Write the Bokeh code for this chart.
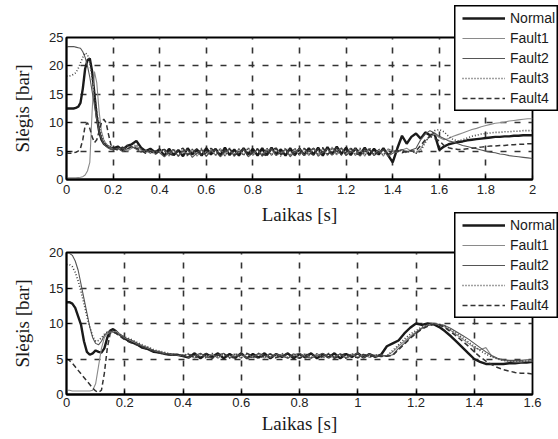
from bokeh.plotting import figure
from bokeh.layouts import column
from bokeh.models import FixedTicker, Legend, LegendItem
from bokeh.embed import file_html
from bokeh.resources import INLINE

# ---------------- data: top chart ----------------
T1 = [0.00, 0.01, 0.02, 0.03, 0.04, 0.05, 0.06, 0.07, 0.08, 0.09, 0.10,
      0.11, 0.12, 0.13, 0.14, 0.15, 0.16, 0.17, 0.18, 0.19, 0.20,
      0.22, 0.24, 0.26, 0.28, 0.30, 0.32, 0.34, 0.36, 0.38, 0.40,
      0.42, 0.44, 0.46, 0.48, 0.50, 0.52, 0.54, 0.56, 0.58, 0.60,
      0.62, 0.64, 0.66, 0.68, 0.70, 0.72, 0.74, 0.76, 0.78, 0.80,
      0.82, 0.84, 0.86, 0.88, 0.90, 0.92, 0.94, 0.96, 0.98, 1.00,
      1.02, 1.04, 1.06, 1.08, 1.10, 1.12, 1.14, 1.16, 1.18, 1.20,
      1.22, 1.24, 1.26, 1.28, 1.30, 1.32, 1.34, 1.36, 1.38, 1.40,
      1.42, 1.44, 1.46, 1.48, 1.50, 1.52, 1.54, 1.56, 1.58, 1.60,
      1.62, 1.64, 1.66, 1.68, 1.70, 1.72, 1.74, 1.76, 1.78, 1.80,
      1.82, 1.84, 1.86, 1.88, 1.90, 1.92, 1.94, 1.96, 1.98, 2.00]

normal_1 = [12.5, 12.5, 12.5, 12.5, 12.6, 12.8, 13.5, 16, 19.5, 21, 21.3, 19, 15, 11, 8.5, 7, 6.3, 6, 5.8, 5.6, 5.5,
            5.8, 5.2, 5.9, 6.2, 6.8, 5.6, 5.0, 5.4, 4.8, 5.3,
            4.2, 5.4, 4.3, 5.2, 4.1, 5.5, 4.4, 5.3, 4.2, 5.5,
            4.4, 5.4, 4.2, 5.6, 4.3, 5.3, 4.2, 5.5, 4.4, 5.4,
            4.2, 5.5, 4.3, 5.6, 4.4, 5.3, 4.2, 5.5, 4.3, 5.4,
            4.3, 5.5, 4.4, 5.6, 4.2, 5.7, 4.4, 5.8, 4.5, 5.6,
            4.3, 5.5, 4.4, 5.6, 4.3, 5.4, 4.4, 5.5, 4.3, 3.0,
            5.5, 7.7, 6.3, 7.5, 8.1, 7.2, 8.3, 7.8, 8.0, 5.2,
            5.8, 6.2, 6.4, 6.6, 6.7, 6.9, 7.0, 7.1, 7.2, 7.3,
            7.4, 7.5, 7.5, 7.6, 7.6, 7.7, 7.7, 7.8, 7.8, 7.8]
fault1_1 = [0.3, 0.3, 0.3, 0.3, 0.3, 0.35, 0.4, 0.5, 0.8, 1.5, 3, 12, 19, 17, 12, 8.5, 7, 6.3, 5.9, 5.6, 5.4,
            5.3, 5.7, 5.0, 5.5, 5.9, 5.2, 4.7, 5.1, 4.5, 4.9,
            5.3, 4.1, 5.2, 4.0, 5.1, 4.2, 5.4, 4.1, 5.2, 4.0,
            5.3, 4.2, 5.5, 4.1, 5.4, 4.0, 5.5, 4.3, 5.6, 4.2,
            5.4, 4.1, 5.5, 4.2, 5.6, 4.3, 5.4, 4.1, 5.5, 4.2,
            5.5, 4.2, 5.6, 4.3, 5.5, 4.2, 5.7, 4.3, 5.6, 4.2,
            5.5, 4.2, 5.4, 4.1, 5.5, 4.2, 5.3, 4.1, 5.4, 5.0,
            4.8, 5.2, 5.5, 5.0, 4.6, 5.4, 6.8, 7.5, 8.0, 7.4,
            7.0, 7.2, 7.6, 7.9, 8.2, 8.5, 8.8, 9.0, 9.3, 9.5,
            9.7, 9.9, 10.0, 10.1, 10.3, 10.4, 10.5, 10.6, 10.7, 10.7]
fault2_1 = [23.3, 23.4, 23.4, 23.4, 23.3, 23.2, 23.1, 22.5, 21.5, 20, 18, 15.5, 13, 10.5, 8.5, 7.2, 6.3, 5.8, 5.5, 5.3, 5.2,
            5.5, 4.9, 5.4, 5.8, 5.3, 4.8, 5.2, 4.6, 5.1, 4.7,
            4.0, 4.8, 5.3, 4.1, 5.0, 5.2, 3.9, 4.7, 5.3, 4.1,
            5.0, 5.2, 4.0, 4.8, 5.4, 4.2, 4.9, 5.3, 4.0, 4.7,
            5.3, 4.1, 5.1, 5.4, 4.2, 4.8, 5.3, 4.0, 4.9, 5.4,
            4.2, 5.0, 5.5, 4.1, 4.8, 5.4, 4.3, 5.1, 5.5, 4.2,
            4.9, 5.4, 4.1, 5.0, 5.3, 4.2, 4.8, 5.2, 4.1, 4.6,
            5.0, 5.3, 4.8, 5.2, 5.5, 7.0, 8.0, 8.6, 8.2, 7.6,
            7.2, 6.8, 6.6, 6.3, 6.0, 5.8, 5.6, 5.4, 5.2, 5.0,
            4.8, 4.7, 4.5, 4.4, 4.2, 4.1, 4.0, 3.9, 3.8, 3.7]
fault3_1 = [18.2, 18.2, 18.3, 18.5, 18.8, 19.5, 20.5, 21.5, 22.3, 22.0, 20.5, 18, 15, 12, 9.5, 7.8, 6.8, 6.2, 5.8, 5.5, 5.3,
            5.6, 5.1, 6.0, 5.6, 6.2, 5.4, 4.9, 5.3, 4.7, 5.2,
            5.1, 4.3, 5.4, 4.2, 5.2, 4.1, 5.3, 4.3, 5.5, 4.2,
            5.2, 4.3, 5.4, 4.2, 5.5, 4.4, 5.3, 4.2, 5.6, 4.3,
            5.4, 4.2, 5.5, 4.3, 5.4, 4.1, 5.6, 4.4, 5.5, 4.3,
            5.4, 4.3, 5.6, 4.4, 5.5, 4.3, 5.6, 4.4, 5.5, 4.3,
            5.6, 4.4, 5.5, 4.3, 5.6, 4.4, 5.4, 4.3, 5.2, 5.1,
            4.9, 5.2, 4.7, 5.1, 4.6, 5.0, 6.5, 7.8, 8.6, 8.8,
            8.4, 7.6, 7.0, 6.8, 7.0, 7.3, 7.6, 7.8, 8.0, 8.1,
            8.2, 8.3, 8.3, 8.4, 8.4, 8.5, 8.5, 8.6, 8.6, 8.6]
fault4_1 = [4.7, 4.6, 4.6, 4.7, 4.8, 5.0, 5.5, 7.0, 9.5, 10.0, 9.0, 7.5, 6.5, 7.0, 8.5, 10.0, 10.6, 10.0, 8.0, 6.2, 5.5,
            5.2, 5.7, 5.3, 5.8, 5.5, 5.1, 4.6, 5.0, 4.4, 5.1,
            5.3, 4.6, 4.2, 5.1, 5.5, 4.4, 4.8, 5.4, 4.2, 4.7,
            5.5, 4.9, 4.2, 5.2, 5.4, 4.3, 4.7, 5.5, 4.1, 4.9,
            5.4, 4.5, 4.2, 5.3, 5.5, 4.4, 4.9, 5.3, 4.2, 4.6,
            5.5, 4.8, 4.3, 5.4, 5.6, 4.5, 4.9, 5.6, 4.3, 4.8,
            5.5, 4.6, 4.3, 5.4, 5.2, 4.4, 4.9, 5.3, 4.4, 4.9,
            5.1, 4.7, 5.0, 5.0, 5.0, 6.0, 7.0, 7.6, 7.2, 6.8,
            6.0, 5.6, 5.4, 5.3, 5.3, 5.4, 5.5, 5.6, 5.7, 5.8,
            5.9, 5.9, 6.0, 6.0, 6.1, 6.1, 6.2, 6.2, 6.3, 6.3]

# ---------------- data: bottom chart ----------------
T2 = [0.00, 0.01, 0.02, 0.03, 0.04, 0.05, 0.06, 0.07, 0.08, 0.09, 0.10,
      0.11, 0.12, 0.13, 0.14, 0.15, 0.16, 0.17, 0.18, 0.19, 0.20,
      0.22, 0.24, 0.26, 0.28, 0.30, 0.32, 0.34, 0.36, 0.38, 0.40,
      0.42, 0.44, 0.46, 0.48, 0.50, 0.52, 0.54, 0.56, 0.58, 0.60,
      0.62, 0.64, 0.66, 0.68, 0.70, 0.72, 0.74, 0.76, 0.78, 0.80,
      0.82, 0.84, 0.86, 0.88, 0.90, 0.92, 0.94, 0.96, 0.98, 1.00,
      1.02, 1.04, 1.06, 1.08, 1.10, 1.12, 1.14, 1.16, 1.18, 1.20,
      1.22, 1.24, 1.26, 1.28, 1.30, 1.32, 1.34, 1.36, 1.38, 1.40,
      1.42, 1.44, 1.46, 1.48, 1.50, 1.52, 1.54, 1.56, 1.58, 1.60]

normal_2 = [13.0, 13.0, 12.8, 12.2, 11.0, 9.8, 7.5, 6.0, 5.6, 5.8, 6.2, 6.0, 5.9, 6.5, 8.0, 9.0, 9.2, 8.9, 8.5, 8.2, 7.9,
            7.4, 7.1, 6.6, 6.4, 6.0, 5.9, 5.7, 5.6, 5.6, 5.4,
            5.2, 5.8, 5.1, 5.7, 5.3, 5.8, 5.1, 5.7, 5.2, 5.8,
            5.1, 5.7, 5.2, 5.8, 5.1, 5.7, 5.3, 5.8, 5.1, 5.7,
            5.2, 5.8, 5.1, 5.7, 5.2, 5.8, 5.1, 5.7, 5.3, 5.8,
            5.2, 5.7, 5.3, 5.6, 6.8, 7.2, 7.6, 8.6, 9.4, 10.0,
            9.8, 10.0, 9.9, 9.5, 8.9, 8.2, 7.4, 6.6, 5.8, 5.0,
            4.6, 4.3, 4.3, 4.3, 4.3, 4.4, 4.4, 4.5, 4.5, 4.6]
fault1_2 = [0.6, 0.6, 0.5, 0.5, 0.5, 0.5, 0.5, 0.5, 0.5, 0.6, 1.5, 4.0, 6.5, 8.0, 8.6, 8.7, 8.8, 8.9, 8.6, 8.3, 8.0,
            7.6, 7.2, 6.9, 6.5, 6.2, 6.0, 5.8, 5.6, 5.5, 5.5,
            5.7, 5.1, 5.8, 5.2, 5.7, 5.1, 5.8, 5.2, 5.7, 5.1,
            5.8, 5.2, 5.7, 5.1, 5.8, 5.2, 5.7, 5.1, 5.8, 5.2,
            5.7, 5.1, 5.8, 5.2, 5.7, 5.1, 5.8, 5.2, 5.7, 5.1,
            5.7, 5.2, 5.6, 5.3, 5.5, 6.0, 6.8, 7.5, 8.2, 8.8,
            9.4, 9.8, 10.0, 9.8, 9.5, 9.0, 8.4, 7.8, 7.2, 6.6,
            6.3, 6.6, 5.4, 5.0, 4.8, 4.7, 4.6, 4.6, 4.7, 4.7]
fault2_2 = [20.0, 19.9, 19.6, 18.8, 17.5, 15.5, 13.5, 11.5, 9.5, 8.0, 7.2, 7.0, 7.5, 8.3, 8.8, 8.9, 8.8, 8.6, 8.4, 8.2, 8.0,
            7.7, 7.3, 6.8, 6.6, 6.2, 6.0, 5.7, 5.7, 5.5, 5.6,
            5.2, 5.5, 5.8, 5.3, 5.1, 5.6, 5.8, 5.2, 5.4, 5.7,
            5.1, 5.3, 5.8, 5.5, 5.2, 5.7, 5.4, 5.1, 5.6, 5.8,
            5.3, 5.1, 5.5, 5.8, 5.2, 5.4, 5.7, 5.1, 5.5, 5.8,
            5.2, 5.7, 5.3, 5.6, 5.4, 5.6, 6.5, 7.2, 8.0, 8.7,
            9.3, 9.7, 9.9, 9.9, 9.7, 9.3, 8.8, 8.3, 7.8, 7.2,
            6.6, 6.0, 5.5, 5.1, 4.9, 4.8, 4.8, 4.8, 4.9, 4.9]
fault3_2 = [18.3, 18.3, 18.0, 17.2, 16.0, 14.5, 12.8, 11.0, 9.5, 8.2, 7.5, 7.6, 8.0, 8.5, 8.8, 9.0, 8.9, 8.7, 8.5, 8.3, 8.1,
            7.8, 7.4, 7.0, 6.7, 6.3, 6.1, 5.9, 5.7, 5.6, 5.5,
            5.8, 5.2, 5.7, 5.1, 5.8, 5.2, 5.7, 5.1, 5.8, 5.2,
            5.7, 5.1, 5.8, 5.2, 5.7, 5.1, 5.8, 5.2, 5.7, 5.1,
            5.8, 5.2, 5.7, 5.1, 5.8, 5.2, 5.7, 5.1, 5.8, 5.2,
            5.7, 5.3, 5.6, 5.4, 5.4, 6.2, 7.0, 7.8, 8.5, 9.0,
            9.5, 9.8, 10.0, 9.9, 9.6, 9.1, 8.6, 8.0, 7.4, 6.8,
            6.2, 5.7, 5.3, 5.0, 4.8, 4.7, 4.7, 4.7, 4.7, 4.7]
fault4_2 = [5.0, 4.8, 4.4, 3.9, 3.4, 2.9, 2.4, 1.9, 1.4, 0.9, 0.5, 0.3, 0.6, 3.0, 6.5, 8.6, 8.8, 8.6, 8.3, 8.0, 7.7,
            7.3, 7.0, 6.7, 6.3, 6.1, 5.8, 5.7, 5.5, 5.6, 5.4,
            5.6, 5.2, 5.4, 5.8, 5.1, 5.5, 5.7, 5.3, 5.1, 5.6,
            5.8, 5.4, 5.1, 5.5, 5.7, 5.2, 5.4, 5.8, 5.3, 5.1,
            5.5, 5.8, 5.2, 5.4, 5.7, 5.1, 5.5, 5.8, 5.3, 5.2,
            5.6, 5.3, 5.5, 5.4, 5.4, 5.5, 6.3, 7.1, 7.9, 8.6,
            9.2, 9.6, 9.9, 9.8, 9.4, 8.8, 8.2, 7.5, 6.8, 6.0,
            5.3, 4.7, 4.2, 3.8, 3.5, 3.3, 3.1, 3.0, 3.0, 2.9]

SERIES_NAMES = ["Normal", "Fault1", "Fault2", "Fault3", "Fault4"]

X1_TICKS = [0, 0.2, 0.4, 0.6, 0.8, 1, 1.2, 1.4, 1.6, 1.8, 2]
X1_LABELS = ["0", "0.2", "0.4", "0.6", "0.8", "1", "1.2", "1.4", "1.6", "1.8", "2"]
Y1_TICKS = [0, 5, 10, 15, 20, 25]
X2_TICKS = [0, 0.2, 0.4, 0.6, 0.8, 1, 1.2, 1.4, 1.6]
X2_LABELS = ["0", "0.2", "0.4", "0.6", "0.8", "1", "1.2", "1.4", "1.6"]
Y2_TICKS = [0, 5, 10, 15, 20]

X_LABEL = "Laikas [s]"
Y_LABEL = "Slėgis [bar]"

STYLES = [
    dict(line_color="#1a1a1a", line_width=2.4),
    dict(line_color="#8a8a8a", line_width=1.1),
    dict(line_color="#555555", line_width=1.1),
    dict(line_color="#444444", line_width=1.6, line_dash="1 2"),
    dict(line_color="#333333", line_width=1.5, line_dash="5 3"),
]


def make_plot(t, series, xmax, ymax, xticks, xlabels, yticks, height,
              border_top, border_bottom, tick_standoff, label_standoff, transparent=False):
    p = figure(width=558, height=height, output_backend="svg", toolbar_location=None,
               x_range=(0, xmax), y_range=(0, ymax), frame_align=False,
               min_border_left=66, min_border_right=26,
               min_border_top=border_top, min_border_bottom=border_bottom)
    if transparent:
        p.border_fill_color = None
    p.background_fill_color = "white"
    p.outline_line_color = "black"
    p.outline_line_width = 1.8
    p.outline_line_alpha = 1

    for ys, st in zip(series, STYLES):
        p.line(t, ys, **st)

    for ax in (p.xaxis[0], p.yaxis[0]):
        ax.axis_line_color = "black"
        ax.axis_line_width = 1.8
        ax.major_tick_in = 4
        ax.major_tick_out = 0
        ax.major_tick_line_color = "black"
        ax.major_tick_line_width = 1.2
        ax.minor_tick_line_color = None
        ax.major_label_text_font = "Liberation Sans"
        ax.major_label_text_font_size = "13px"
        ax.major_label_text_color = "#222222"
        ax.axis_label_text_font = "Liberation Serif"
        ax.axis_label_text_font_size = "19px"
        ax.axis_label_text_font_style = "normal"
        ax.axis_label_text_color = "#1a1a1a"

    p.xaxis[0].ticker = FixedTicker(ticks=xticks)
    p.xaxis[0].major_label_overrides = {v: s for v, s in zip(xticks, xlabels)}
    p.xaxis[0].major_label_standoff = tick_standoff
    p.xaxis[0].axis_label = X_LABEL
    p.xaxis[0].axis_label_standoff = label_standoff
    p.yaxis[0].ticker = FixedTicker(ticks=yticks)
    p.yaxis[0].major_label_standoff = 3
    p.yaxis[0].axis_label = Y_LABEL
    p.yaxis[0].axis_label_standoff = 13

    for g in (p.xgrid[0], p.ygrid[0]):
        g.grid_line_color = "#333333"
        g.grid_line_width = 1.6
        g.grid_line_dash = "6 8"
        g.grid_line_alpha = 1
    p.xgrid[0].ticker = FixedTicker(ticks=xticks)
    p.ygrid[0].ticker = FixedTicker(ticks=yticks)
    return p


def make_legend_box(top_margin, t, series):
    lp = figure(width=104, height=106, output_backend="svg", toolbar_location=None,
                x_range=(0, 1), y_range=(0, 1), min_border=0, frame_align=False,
                x_axis_location=None, y_axis_location=None)
    lp.grid.visible = False
    lp.background_fill_color = "white"
    lp.border_fill_color = "white"
    lp.outline_line_color = "black"
    lp.outline_line_width = 2
    lp.outline_line_alpha = 1
    # one-point lines: they draw nothing in the box, but give the legend its line samples
    renderers = [lp.line(x=t[:1], y=ys[:1], **st) for ys, st in zip(series, STYLES)]
    items = [LegendItem(label=n, renderers=[r]) for n, r in zip(SERIES_NAMES, renderers)]
    legend = Legend(items=items, location=(8, 3),
                    border_line_color=None, background_fill_alpha=0,
                    label_text_font="Liberation Sans", label_text_font_size="14px",
                    label_text_color="#1a1a1a",
                    glyph_width=43, glyph_height=20, label_height=20,
                    label_standoff=5, spacing=0, padding=0, margin=0)
    lp.add_layout(legend, "center")
    lp.margin = (top_margin, 0, 0, 454)
    return lp


series_1 = [normal_1, fault1_1, fault2_1, fault3_1, fault4_1]
series_2 = [normal_2, fault1_2, fault2_2, fault3_2, fault4_2]

p1 = make_plot(T1, series_1, 2, 25, X1_TICKS, X1_LABELS, Y1_TICKS, height=230,
               border_top=37, border_bottom=51, tick_standoff=5, label_standoff=7)
leg1 = make_legend_box(-225, T1, series_1)          # box from y=5 to y=111
p2 = make_plot(T2, series_2, 1.6, 20, X2_TICKS, X2_LABELS, Y2_TICKS, height=234,
               border_top=47, border_bottom=45, tick_standoff=3, label_standoff=3,
               transparent=True)
p2.margin = (94, 0, 0, 0)                            # figure from y=205 to y=439
leg2 = make_legend_box(-227, T2, series_2)          # box from y=212 to y=318

layout = column(p1, leg1, p2, leg2, spacing=0)
open("out.html", "w").write(file_html(layout, INLINE))
